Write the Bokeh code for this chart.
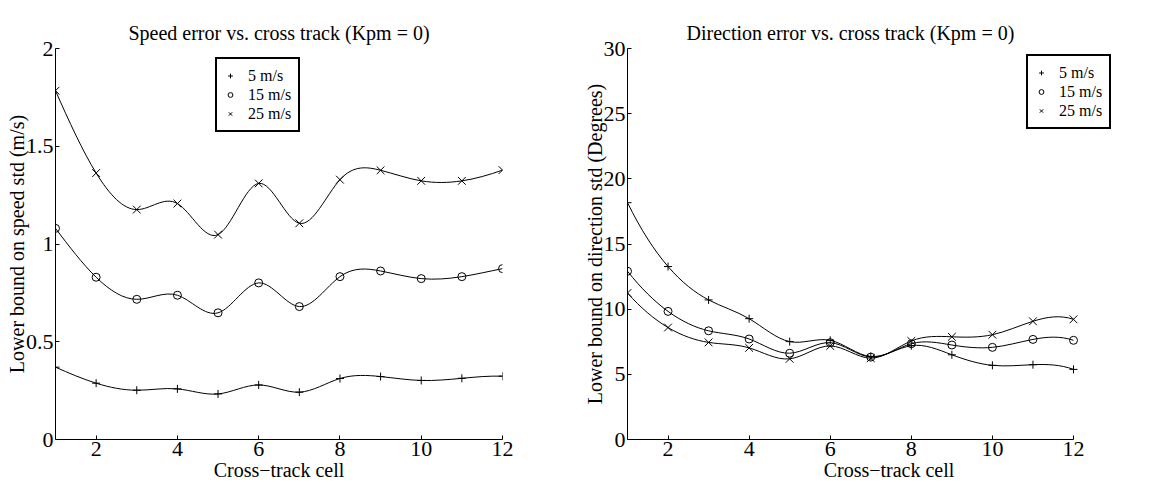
import numpy as np
from bokeh.plotting import figure
from bokeh.layouts import row
from bokeh.models import Legend, LegendItem, FixedTicker, Range1d
from bokeh.embed import file_html
from bokeh.resources import INLINE

cells = [1, 2, 3, 4, 5, 6, 7, 8, 9, 10, 11, 12]
labels = ["5 m/s", "15 m/s", "25 m/s"]

speed_5 = [0.370, 0.288, 0.252, 0.259, 0.233, 0.279, 0.242, 0.312, 0.322, 0.302, 0.313, 0.324]
speed_15 = [1.080, 0.830, 0.717, 0.738, 0.648, 0.801, 0.680, 0.833, 0.862, 0.823, 0.833, 0.874]
speed_25 = [1.784, 1.363, 1.176, 1.207, 1.048, 1.310, 1.106, 1.329, 1.377, 1.323, 1.323, 1.378]

dir_5 = [18.17, 13.27, 10.71, 9.27, 7.51, 7.61, 6.37, 7.20, 6.50, 5.69, 5.74, 5.38]
dir_15 = [12.91, 9.83, 8.34, 7.71, 6.62, 7.43, 6.32, 7.35, 7.25, 7.07, 7.68, 7.61]
dir_25 = [11.24, 8.59, 7.45, 7.03, 6.19, 7.18, 6.24, 7.56, 7.88, 8.04, 9.07, 9.22]

SERIF = "Liberation Serif"


def spline_bezier(xs, ys):
    """Not-a-knot cubic spline through the data, expressed as Bezier segments."""
    x = np.asarray(xs, float)
    y = np.asarray(ys, float)
    n = len(x)
    h = np.diff(x)
    A = np.zeros((n, n))
    b = np.zeros(n)
    A[0, 0], A[0, 1], A[0, 2] = h[1], -(h[0] + h[1]), h[0]
    A[-1, -3], A[-1, -2], A[-1, -1] = h[-1], -(h[-2] + h[-1]), h[-2]
    for i in range(1, n - 1):
        A[i, i - 1] = h[i - 1]
        A[i, i] = 2 * (h[i - 1] + h[i])
        A[i, i + 1] = h[i]
        b[i] = 6 * ((y[i + 1] - y[i]) / h[i] - (y[i] - y[i - 1]) / h[i - 1])
    M = np.linalg.solve(A, b)
    d = np.zeros(n)
    for i in range(n - 1):
        d[i] = (y[i + 1] - y[i]) / h[i] - h[i] * (2 * M[i] + M[i + 1]) / 6
    d[-1] = (y[-1] - y[-2]) / h[-1] + h[-1] * (M[-2] + 2 * M[-1]) / 6
    return dict(
        x0=x[:-1], y0=y[:-1], x1=x[1:], y1=y[1:],
        cx0=x[:-1] + h / 3, cy0=y[:-1] + h * d[:-1] / 3,
        cx1=x[1:] - h / 3, cy1=y[1:] - h * d[1:] / 3,
    )


def make_plot(title, ylabel, series, ymax, yticks, width, bl, br, bt, legend_loc,
              x_end=12, title_offset=None):
    p = figure(width=width, height=492, output_backend="svg", toolbar_location=None,
               x_range=Range1d(1, x_end), y_range=Range1d(0, ymax),
               min_border_left=bl, min_border_right=br, min_border_top=bt, min_border_bottom=53)
    p.outline_line_color = None
    p.xgrid.visible = False
    p.ygrid.visible = False
    p.title.text = title
    if title_offset is None:
        p.title.align = "center"
    else:
        p.title.align = "left"
        p.title.offset = title_offset
    p.title.text_font = SERIF
    p.title.text_font_style = "normal"
    p.title.text_font_size = "20px"
    p.title.text_color = "black"

    p.xaxis.ticker = FixedTicker(ticks=[2, 4, 6, 8, 10, 12])
    p.xaxis.bounds = (1, 12)
    p.yaxis.ticker = FixedTicker(ticks=yticks)
    for ax in (p.xaxis[0], p.yaxis[0]):
        ax.major_tick_in = 4
        ax.major_tick_out = 0
        ax.minor_tick_in = 0
        ax.minor_tick_out = 0
        ax.axis_line_color = "black"
        ax.major_tick_line_color = "black"
        ax.major_label_text_font = SERIF
        ax.major_label_text_font_size = "22px"
        ax.major_label_text_color = "black"
        ax.axis_label_text_font = SERIF
        ax.axis_label_text_font_size = "20px"
        ax.axis_label_text_font_style = "normal"
        ax.axis_label_text_color = "black"
        ax.major_label_standoff = 2
        ax.axis_label_standoff = 0
    p.yaxis.axis_label_standoff = -5
    p.xaxis.axis_label = "Cross\u2212track cell"
    p.yaxis.axis_label = ylabel

    markers = [("cross", 8), ("circle", 8), ("x", 11)]
    items = []
    for (vals, lab), (mk, sz) in zip(series, markers):
        bz = spline_bezier(cells, vals)
        p.bezier(x0="x0", y0="y0", x1="x1", y1="y1", cx0="cx0", cy0="cy0", cx1="cx1", cy1="cy1",
                 source=bz, line_color="black", line_width=1)
        r = p.scatter(cells, vals, marker=mk, size=sz, line_color="black",
                      fill_color=None, line_width=1)
        items.append(LegendItem(label=lab, renderers=[r]))
    leg = Legend(items=items, location=legend_loc)
    leg.label_text_font = SERIF
    leg.label_text_font_size = "16px"
    leg.label_text_color = "black"
    leg.label_height = 19
    leg.glyph_height = 19
    leg.glyph_width = 12
    leg.label_standoff = 12
    leg.spacing = 0
    leg.padding = 7
    leg.margin = 0
    leg.border_line_color = "black"
    leg.border_line_alpha = 1
    leg.border_line_width = 2
    leg.background_fill_alpha = 1
    p.add_layout(leg)
    return p


p1 = make_plot("Speed error vs. cross track (Kpm = 0)", "Lower bound on speed std (m/s)",
               [(speed_5, labels[0]), (speed_15, labels[1]), (speed_25, labels[2])],
               2, [0, 0.5, 1, 1.5, 2], 580, 55, 78, 48, (160, 307))
# right frame spans 627..1150 px while the axis (1..12) spans 627..1073 px
p2 = make_plot("Direction error vs. cross track (Kpm = 0)", "Lower bound on direction std (Degrees)",
               [(dir_5, labels[0]), (dir_15, labels[1]), (dir_25, labels[2])],
               30, [0, 5, 10, 15, 20, 25, 30], 576, 47, 6, 43, (399, 310),
               x_end=1 + 11 * 523 / 446, title_offset=59)

layout = row(p1, p2)
open("out.html", "w").write(file_html(layout, INLINE))
